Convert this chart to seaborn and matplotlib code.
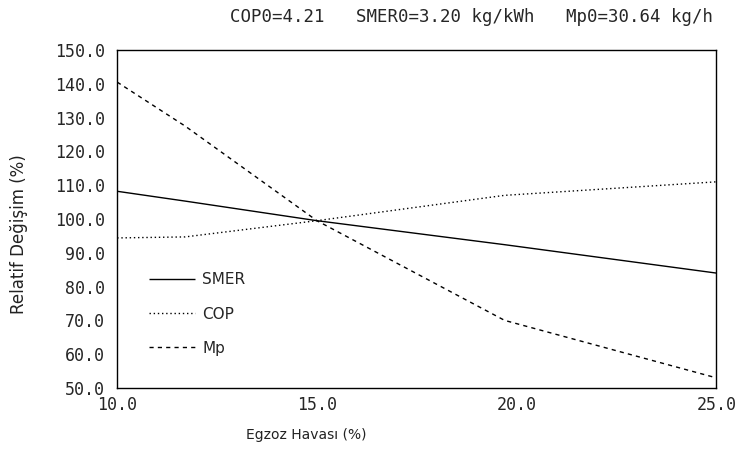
import matplotlib
matplotlib.use("Agg")
import matplotlib.pyplot as plt
import seaborn as sns
import pandas as pd

# Data
egzoz = [10.0, 11.7, 15.0, 19.7, 25.0]
smer = [108.2, 105.3, 99.5, 92.4, 84.0]
cop = [94.4, 94.7, 99.5, 107.0, 111.0]
mp = [140.5, 127.5, 99.5, 70.0, 53.0]

series_names = ["SMER", "COP", "Mp"]
y_ticks = [50, 60, 70, 80, 90, 100, 110, 120, 130, 140, 150]
x_ticks = [10, 15, 20, 25]
title_text = "COP0=4.21   SMER0=3.20 kg/kWh   Mp0=30.64 kg/h"
xlabel = "Egzoz Havası (%)"
ylabel = "Relatif Değişim (%)"

df = pd.DataFrame({
    "x": egzoz * 3,
    "y": smer + cop + mp,
    "seri": ["SMER"] * 5 + ["COP"] * 5 + ["Mp"] * 5,
})

sns.set_style("white")
plt.rcParams["font.family"] = ["DejaVu Sans"]

fig = plt.figure(figsize=(7.37, 4.63), dpi=100)
ax = fig.add_axes([0.159, 0.162, 0.813, 0.73])

styles = {"SMER": (0, ()), "COP": (0, (1, 2)), "Mp": (0, (3, 3))}
for name in series_names:
    sub = df[df["seri"] == name]
    sns.lineplot(data=sub, x="x", y="y", ax=ax, color="black", linewidth=1.0,
                 linestyle=styles[name], label=name)

ax.set_xlim(10, 25)
ax.set_ylim(50, 150)
ax.set_xticks(x_ticks)
ax.set_yticks(y_ticks)
mono = "DejaVu Sans Mono"
ax.set_xticklabels([f"{v:.1f}" for v in x_ticks], family=mono, fontsize=12)
ax.set_yticklabels([f"{v:.1f}" for v in y_ticks], family=mono, fontsize=12)
ax.tick_params(axis="y", direction="in", length=17, width=1, color="black", pad=9)
ax.tick_params(axis="x", direction="in", length=12, width=1, color="black", pad=6)
for s in ax.spines.values():
    s.set_visible(True)
    s.set_color("black")
    s.set_linewidth(1.0)

ax.set_xlabel("")
ax.set_ylabel("")
fig.text(0.415, 0.06, xlabel, ha="center", va="center", fontsize=10, color="#222222")
fig.text(0.026, 0.495, ylabel, ha="center", va="center", rotation=90, fontsize=12, color="#222222")
fig.text(0.312, 0.963, title_text, ha="left", va="center", family=mono, fontsize=12.5)

leg = ax.legend(loc="lower left", bbox_to_anchor=(0.03, 0.055), frameon=False,
                fontsize=11, handlelength=3.0, labelspacing=1.25, handletextpad=0.5)

fig.savefig("out.png", dpi=100, facecolor="white")
